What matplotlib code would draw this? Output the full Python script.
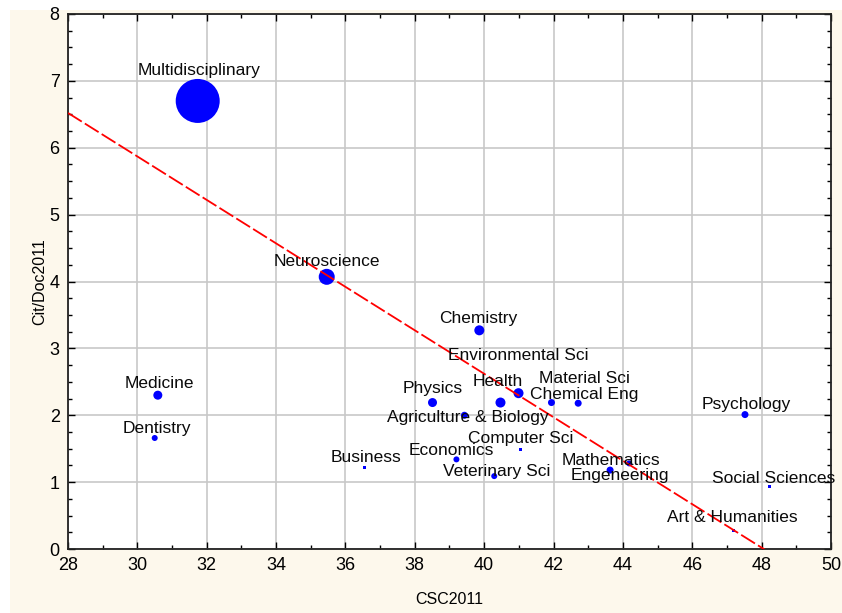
import matplotlib.pyplot as plt
import matplotlib.patches as mpatches
from matplotlib.ticker import MultipleLocator

# Domaines : CSC2011 (x), Cit/Doc2011 (y) et diametre de bulle (px)
domaines = ["Multidisciplinary", "Neuroscience", "Chemistry", "Environmental Sci",
            "Medicine", "Dentistry", "Physics", "Health", "Material Sci",
            "Chemical Eng", "Agriculture & Biology", "Psychology", "Business",
            "Economics", "Computer Sci", "Veterinary Sci", "Mathematics",
            "Engeneering", "Social Sciences", "Art & Humanities"]
csc2011 = [31.74, 35.46, 39.86, 40.99, 30.59, 30.50, 38.51, 40.47, 41.94,
           42.71, 39.43, 47.52, 36.55, 39.20, 41.04, 40.29, 43.63, 44.18,
           48.24, 47.20]
cit_doc2011 = [6.70, 4.07, 3.27, 2.33, 2.30, 1.66, 2.19, 2.19, 2.19, 2.18,
               2.00, 2.01, 1.22, 1.34, 1.49, 1.09, 1.18, 1.28, 0.93, 0.28]
bulle = [44, 16, 10, 10, 9, 6, 9, 10, 7, 7, 7, 7, 3, 6, 3, 6, 7, 6, 3, 3]

# Decalage des etiquettes (pixels) par rapport au point
decalage = [(1, 30), (0, 15), (-1, 12), (0, 38), (2, 12), (2, 9), (0, 14),
            (-3, 21), (33, 24), (6, 9), (3, -2), (1, 10), (1, 10), (-5, 9),
            (0, 11), (2, 5), (1, 10), (-9, -12), (4, 8), (-2, 13)]

# Droite de regression
pente = -0.325
ordonnee = 15.62
x_droite = [28, 50]

fig = plt.figure(figsize=(8.42, 6.13), dpi=100, facecolor="white")
fig.patches.append(mpatches.Rectangle((10 / 842, 0), 1, 1 - 10 / 613,
                                      transform=fig.transFigure,
                                      facecolor="#fdf8ec", edgecolor="none",
                                      zorder=-10))
ax = fig.add_axes([68 / 842, 1 - 549 / 613, (831 - 68) / 842, (549 - 14) / 613])
ax.set_facecolor("white")

for nom, x, y, d, (dx, dy) in zip(domaines, csc2011, cit_doc2011, bulle, decalage):
    marqueur = "s" if d <= 3 else "o"
    ax.scatter(x, y, s=(d * 0.72) ** 2, marker=marqueur, color="#0000ff",
               edgecolors="none", zorder=3)
    ax.annotate(nom, (x, y), xytext=(dx, dy), textcoords="offset pixels",
                ha="center", va="center", fontsize=12.5, color="#0a0a0a",
                family="Liberation Sans", zorder=5)

ax.plot(x_droite, [ordonnee + pente * x for x in x_droite], color="#ff0000",
        linestyle=(0, (9, 2)), linewidth=1.3, zorder=4)

ax.set_xlim(28, 50)
ax.set_ylim(0, 8)
ax.xaxis.set_major_locator(MultipleLocator(2))
ax.xaxis.set_minor_locator(MultipleLocator(1))
ax.yaxis.set_major_locator(MultipleLocator(1))
ax.yaxis.set_minor_locator(MultipleLocator(0.25))
ax.grid(True, which="major", color="#c8c8c8", linewidth=1.2, zorder=0)
ax.set_axisbelow(True)
ax.tick_params(which="both", direction="in", top=True, right=True,
               labelsize=13, colors="black", width=1)
ax.tick_params(which="major", length=5, pad=6)
ax.tick_params(which="minor", length=3)
for lab in ax.get_xticklabels() + ax.get_yticklabels():
    lab.set_family("Liberation Sans")
for sp in ax.spines.values():
    sp.set_linewidth(1.3)
    sp.set_color("#222222")

ax.set_xlabel("CSC2011", fontsize=11.5, family="Liberation Sans", labelpad=13)
ax.set_ylabel("Cit/Doc2011", fontsize=11.5, family="Liberation Sans", labelpad=2)

fig.savefig("out.png", dpi=100, facecolor=fig.get_facecolor())
